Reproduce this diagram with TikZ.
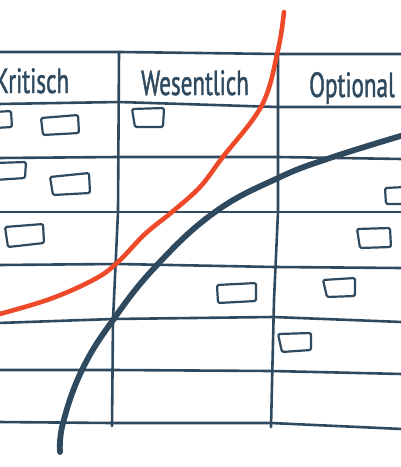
\documentclass[tikz,border=0pt]{standalone}
\usepackage{fontspec}
\newfontfamily\handfont[FakeStretch=0.66,FakeBold=1.2]{PT Sans}
\usepackage{tikz}

\definecolor{inkblue}{HTML}{2F4A5F}
\definecolor{inkred}{HTML}{EE4A2A}

\begin{document}
\begin{tikzpicture}[
    x=1pt, y=-1pt,
    grid/.style={draw=inkblue, line width=2.6pt, line cap=round, line join=round},
    note/.style={draw=inkblue, line width=2.2pt, line cap=round, line join=round, rounded corners=1.5pt},
    head/.style={font=\handfont\fontsize{35}{35}\selectfont, text=inkblue, anchor=base, inner sep=0pt},
    needcurve/.style={draw=inkred, line width=4.6pt, line cap=round},
    effortcurve/.style={draw=inkblue, line width=5.8pt, line cap=round}
]
\useasboundingbox (0,0) rectangle (400,467);

% ================= TABLE =================
\draw[grid] (-2,52) -- (120,52) -- (278,54) -- (402,54);
\draw[grid] (-2,104) -- (119,102) -- (278,107) -- (402,107);
\draw[grid] (-2,158) -- (119,157) -- (278,157) -- (402,159);
\draw[grid] (-2,212) -- (118,212) -- (278,212) -- (402,212);
\draw[grid] (-2,265) -- (118,264) -- (275,267) -- (402,268);
\draw[grid] (-2,323) -- (113,319) -- (273,317) -- (402,322);
\draw[grid] (-2,370) -- (113,370) -- (272,371) -- (402,374);
\draw[grid] (-2,422) -- (112,423) -- (271,423) -- (402,429);

\draw[grid] (119,52) -- (118,212) -- (113,320) -- (112,426);
\draw[grid] (278,52) -- (278,212) -- (274,300) -- (271,427);

% ================= HEADINGS =================
\node[head] (kritisch) at (32,93) {Kritisch};
\node[head] (wesentlich) at (195,95) {Wesentlich};
\node[head] (optional) at (352,97) {Optional};

% ================= NOTES =================
\draw[note] (-5,112) -- (11,111) -- (12,127) -- (-5,128);
\draw[note] (41,118) -- (78,115) -- (79,133) -- (43,135) -- cycle;
\draw[note] (132,109) -- (164,108) -- (163,127) -- (135,127) -- cycle;
\draw[note] (-5,163) -- (26,162) -- (25,178) -- (-5,180);
\draw[note] (50,177) -- (89,173) -- (90,193) -- (53,195) -- cycle;
\draw[note] (5,227) -- (43,224) -- (44,243) -- (8,247) -- cycle;
\draw[note] (405,187) -- (385,188) -- (386,204) -- (405,204);
\draw[note] (357,229) -- (390,228) -- (391,247) -- (360,248) -- cycle;
\draw[note] (217,285) -- (256,283) -- (256,301) -- (218,303) -- cycle;
\draw[note] (323,280) -- (355,278) -- (355,296) -- (327,297) -- cycle;
\draw[note] (278,334) -- (311,333) -- (311,350) -- (282,352) -- cycle;

% ================= CURVES =================
\draw[needcurve] plot[smooth, tension=0.6] coordinates {
    (284,12) (278,50) (262,105) (222,158) (200,187) (172,212)
    (145,234) (118,262) (95,279) (50,299) (-4,315)};

\draw[effortcurve] plot[smooth, tension=0.7] coordinates {
    (60,452) (63,423) (82,370) (113,320) (157,265)
    (215,212) (278,178) (330,158) (404,135)};

\end{tikzpicture}
\end{document}
